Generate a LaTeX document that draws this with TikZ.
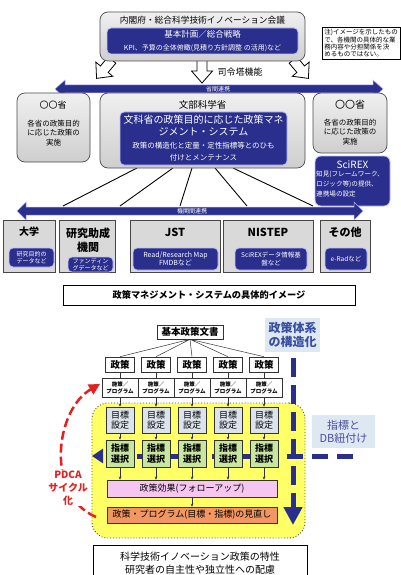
\documentclass[tikz,border=0pt]{standalone}
\usepackage{fontspec}
\setmainfont{Noto Sans CJK JP}
\usepackage{xcolor}
\usepackage{tikz}
\usetikzlibrary{arrows.meta}
\tikzset{>={Stealth[length=3pt,width=2.6pt]}}
\definecolor{navy}{RGB}{42,46,140}
\definecolor{paleblue}{RGB}{221,232,243}
\definecolor{structblue}{RGB}{58,78,160}
\definecolor{pdcared}{RGB}{228,32,32}
\definecolor{goalfill}{RGB}{220,227,236}
\definecolor{idxfill}{RGB}{200,230,160}
\definecolor{effectfill}{RGB}{245,198,240}
\definecolor{reviewfill}{RGB}{242,150,100}
\definecolor{areafill}{RGB}{255,255,102}
\newcommand{\pxfont}[2]{\fontsize{#1}{#2}\selectfont}

\begin{document}
\begin{tikzpicture}[x=1pt, y=-1pt,
                    graybox/.style={draw=gray!60!black, line width=.7pt, rounded corners=8pt, top color=gray!12, bottom color=gray!38, inner sep=0pt},
                    orgbox/.style={draw=gray!55!black, line width=.7pt, fill=gray!30, inner sep=0pt},
                    bluebox/.style={draw=blue!25!white, line width=.8pt, fill=navy, rounded corners=4pt, text=white, align=center, inner sep=1pt},
                    hollow/.style={draw=black, line width=.8pt, fill=white},
                    bandarrow/.style={fill=navy, draw=blue!30!white, line width=.5pt},
                    fanline/.style={draw=black, line width=.9pt},
                    tbox/.style={draw=black!80, line width=.6pt, fill=white, align=center, inner sep=0pt},
                    treeline/.style={draw=black!80, line width=.5pt},
                    navydash/.style={draw=navy, line width=5pt, dash pattern=on 19pt off 8pt},
                    pdcadash/.style={draw=pdcared, line width=2.5pt, dash pattern=on 9pt off 4pt},
                   ]

\useasboundingbox (0,0) rectangle (401,575);
\clip (0,0) rectangle (401,575);
\fill[white] (0,0) rectangle (401,575);

% --- upper half: policy management system ---
\draw[hollow, shift={(112,60)}, rotate=-40] (-5,0) -- (5,0) -- (5,12) -- (11,12) -- (0,24) -- (-11,12) -- (-5,12) -- cycle;
\draw[hollow, shift={(293,60)}, rotate=40] (-5,0) -- (5,0) -- (5,12) -- (11,12) -- (0,24) -- (-11,12) -- (-5,12) -- cycle;
\draw[hollow, shift={(202,60)}] (-5,0) -- (5,0) -- (5,11) -- (10.5,11) -- (0,23) -- (-10.5,11) -- (-5,11) -- cycle;

\node[graybox, minimum width=205pt, minimum height=49pt] (cstp) at (202.5,36.5) {};
\node[font=\pxfont{8.7}{10}] (cstptitle) at (202.5,20.5) {内閣府・総合科学技術イノベーション会議};
\node[bluebox, minimum width=191pt, minimum height=26pt] (plan) at (202.5,41)
     {\pxfont{8.5}{10}基本計画／総合戦略\\[1pt]\pxfont{7}{8}KPI、予算の全体俯瞰(見積り方針調整 の活用)など};

\node[draw, line width=.6pt, fill=white, anchor=north west, align=left, inner sep=2pt, font=\pxfont{6.5}{7.3}] (note) at (322,27)
     {注)イメージを示したもの\\で、各機関の具体的な業\\務内容や分担関係を決\\めるものではない。};

\node[font=\pxfont{9}{10}, anchor=west] (hq) at (214,72) {司令塔機能};

\fill[bandarrow] (55,89) -- (65,80) -- (65,85) -- (373,85) -- (373,80) -- (383,89) -- (373,98) -- (373,93) -- (65,93) -- (65,98) -- cycle;
\node[text=white, font=\pxfont{6}{7}] (interministry) at (218,89) {省間連携};

\node[graybox, minimum width=73pt, minimum height=69pt] (minl) at (53.5,127.5) {};
\node[font=\pxfont{9}{10}] (minltitle) at (53,105) {〇〇省};
\node[font=\pxfont{7.5}{9.7}, align=center] (minltext) at (53.5,133) {各省の政策目的\\に応じた政策の\\実施};

\coordinate (f1) at (137,168); \coordinate (e1) at (63,206);
\coordinate (f2) at (173,168); \coordinate (e2) at (120,206);
\coordinate (f3) at (192,168); \coordinate (e3) at (180,206);
\coordinate (f4) at (215,168); \coordinate (e4) at (247,206);
\coordinate (f5) at (233,168); \coordinate (e5) at (313,206);
\draw[fanline] (f1) -- (e1) (f2) -- (e2) (f3) -- (e3) (f4) -- (e4) (f5) -- (e5);

\node[graybox, minimum width=205pt, minimum height=75pt] (mext) at (202.5,130.5) {};
\node[font=\pxfont{9.5}{11}] (mexttitle) at (202.5,105) {文部科学省};
\node[bluebox, minimum width=167pt, minimum height=53pt] (pms) at (203.5,138.5)
     {\pxfont{10}{12}文科省の政策目的に応じた政策マネ\\\pxfont{10}{12}ジメント・システム\\[1pt]\pxfont{7.5}{10}政策の構造化と定量・定性指標等とのひも\\\pxfont{7.5}{10}付けとメンテナンス};

\node[graybox, minimum width=74pt, minimum height=60pt] (minr) at (350,123) {};
\node[font=\pxfont{10}{11}] (minrtitle) at (350,105) {〇〇省};
\node[font=\pxfont{7.5}{9.7}, align=center] (minrtext) at (350,132) {各省の政策目的\\に応じた政策の\\実施};

\node[bluebox, rounded corners=6pt, minimum width=75pt, minimum height=50pt] (scirex) at (352.5,181) {};
\node[text=white, font=\pxfont{10}{11}] (scirextitle) at (352.5,164.5) {SciREX};
\node[text=white, align=left, anchor=north west, inner sep=0pt, font=\pxfont{6.6}{10}] (scirextext) at (316,171)
     {知見(フレームワーク、\\ロジック等)の提供、\\連携場の設定};

\fill[bandarrow] (17,211) -- (26,202) -- (26,207) -- (354,207) -- (354,202) -- (363,211) -- (354,220) -- (354,215) -- (26,215) -- (26,220) -- cycle;
\node[text=white, font=\pxfont{6}{7}] (interagency) at (192,211) {機関間連携};

\node[orgbox, minimum width=52pt, minimum height=52pt] (univ) at (29,246) {};
\node[font=\pxfont{10}{11}\bfseries] (univtitle) at (29,232) {大学};
\node[bluebox, minimum width=45pt, minimum height=19pt, font=\pxfont{6}{7.5}] (univdata) at (31.5,257.5) {研究目的の\\データなど};

\node[orgbox, minimum width=56pt, minimum height=52pt] (fund) at (87,246) {};
\node[font=\pxfont{11}{13.5}\bfseries, align=center] (fundtitle) at (88,240) {研究助成\\機関};
\node[bluebox, minimum width=45pt, minimum height=15pt, font=\pxfont{6}{7}] (funddata) at (90.5,264.5) {ファンディン\\グデータなど};

\node[orgbox, minimum width=90pt, minimum height=52pt] (jst) at (175,246) {};
\node[font=\pxfont{11}{12}\bfseries] (jsttitle) at (175,232) {JST};
\node[bluebox, minimum width=85pt, minimum height=22pt, font=\pxfont{7}{8.5}] (jstdata) at (175.5,259) {Read/Research Map\\FMDBなど};

\node[orgbox, minimum width=90pt, minimum height=52pt] (nistep) at (268,246) {};
\node[font=\pxfont{11}{12}\bfseries] (nisteptitle) at (268,232) {NISTEP};
\node[bluebox, minimum width=72pt, minimum height=22pt, font=\pxfont{6.5}{8}] (nistepdata) at (271,259) {SciREXデータ情報基\\盤など};

\node[orgbox, minimum width=50pt, minimum height=52pt] (other) at (345,246) {};
\node[font=\pxfont{11}{12}\bfseries] (othertitle) at (345,232) {その他};
\node[bluebox, minimum width=42pt, minimum height=22pt, font=\pxfont{6.5}{8}] (otherdata) at (346,259) {e-Radなど};

\node[draw, line width=.8pt, minimum width=292pt, minimum height=20pt, font=\pxfont{9.2}{10}\bfseries] (caption) at (209,295) {政策マネジメント・システムの具体的イメージ};

% --- lower half: structuring of the policy system ---
\node[fill=paleblue, text=structblue, align=center, minimum width=55pt, minimum height=34pt, font=\pxfont{12}{14}\bfseries] (struct) at (292.5,335) {政策体系\\の構造化};
\node[tbox, minimum width=66pt, minimum height=14pt, font=\pxfont{9.5}{10}\bfseries] (kihon) at (190,332) {基本政策文書};

\node[tbox, minimum width=29pt, minimum height=15pt, font=\pxfont{9.5}{10}\bfseries] (p1) at (120,364.5) {政策};
\node[tbox, minimum width=29pt, minimum height=15pt, font=\pxfont{9.5}{10}\bfseries] (p2) at (156,364.5) {政策};
\node[tbox, minimum width=29pt, minimum height=15pt, font=\pxfont{9.5}{10}\bfseries] (p3) at (192,364.5) {政策};
\node[tbox, minimum width=29pt, minimum height=15pt, font=\pxfont{9.5}{10}\bfseries] (p4) at (228,364.5) {政策};
\node[tbox, minimum width=29pt, minimum height=15pt, font=\pxfont{9.5}{10}\bfseries] (p5) at (264,364.5) {政策};
\draw[treeline] (kihon.south) -- (p1.north) (kihon.south) -- (p2.north) (kihon.south) -- (p3.north) (kihon.south) -- (p4.north) (kihon.south) -- (p5.north);

\node[tbox, minimum width=36pt, minimum height=19pt, font=\pxfont{5.5}{7}\bfseries] (g1) at (120,387.5) {施策／\\プログラム};
\node[tbox, minimum width=36pt, minimum height=19pt, font=\pxfont{5.5}{7}\bfseries] (g2) at (156,387.5) {施策／\\プログラム};
\node[tbox, minimum width=36pt, minimum height=19pt, font=\pxfont{5.5}{7}\bfseries] (g3) at (192,387.5) {施策／\\プログラム};
\node[tbox, minimum width=36pt, minimum height=19pt, font=\pxfont{5.5}{7}\bfseries] (g4) at (228,387.5) {施策／\\プログラム};
\node[tbox, minimum width=36pt, minimum height=19pt, font=\pxfont{5.5}{7}\bfseries] (g5) at (264,387.5) {施策／\\プログラム};
\draw[treeline] (p1) -- (g1) (p2) -- (g2) (p3) -- (g3) (p4) -- (g4) (p5) -- (g5);

\node[draw=black!70, line width=.9pt, dotted, fill=areafill, rounded corners=16pt, minimum width=213pt, minimum height=135pt] (pdcaarea) at (198.5,470.5) {};

\coordinate (vtop) at (293,358); \coordinate (vbot) at (293,525);
\draw[navydash, -{Triangle[length=18pt,width=18pt]}] (vtop) -- (vbot);
\coordinate (hright) at (353,456); \coordinate (hleft) at (92,456);
\draw[navydash, dash pattern=on 16pt off 9pt, -{Triangle[length=11pt,width=14pt]}] (hright) -- (hleft);

\node[tbox, fill=goalfill, minimum width=28pt, minimum height=26pt, font=\pxfont{9}{10.5}] (t1) at (120,420) {目標\\設定};
\node[tbox, fill=goalfill, minimum width=28pt, minimum height=26pt, font=\pxfont{9}{10.5}] (t2) at (156,420) {目標\\設定};
\node[tbox, fill=goalfill, minimum width=28pt, minimum height=26pt, font=\pxfont{9}{10.5}] (t3) at (192,420) {目標\\設定};
\node[tbox, fill=goalfill, minimum width=28pt, minimum height=26pt, font=\pxfont{9}{10.5}] (t4) at (228,420) {目標\\設定};
\node[tbox, fill=goalfill, minimum width=28pt, minimum height=26pt, font=\pxfont{9}{10.5}] (t5) at (264,420) {目標\\設定};

\node[tbox, fill=idxfill, minimum width=28pt, minimum height=27pt, font=\pxfont{9}{10.5}\bfseries] (s1) at (120,453.5) {指標\\選択};
\node[tbox, fill=idxfill, minimum width=28pt, minimum height=27pt, font=\pxfont{9}{10.5}\bfseries] (s2) at (156,453.5) {指標\\選択};
\node[tbox, fill=idxfill, minimum width=28pt, minimum height=27pt, font=\pxfont{9}{10.5}\bfseries] (s3) at (192,453.5) {指標\\選択};
\node[tbox, fill=idxfill, minimum width=28pt, minimum height=27pt, font=\pxfont{9}{10.5}\bfseries] (s4) at (228,453.5) {指標\\選択};
\node[tbox, fill=idxfill, minimum width=28pt, minimum height=27pt, font=\pxfont{9}{10.5}\bfseries] (s5) at (264,453.5) {指標\\選択};

\node[tbox, fill=effectfill, minimum width=170pt, minimum height=17pt, font=\pxfont{9}{10}] (effect) at (192,488.5) {政策効果(フォローアップ)};
\node[tbox, fill=reviewfill, minimum width=170pt, minimum height=16pt, font=\pxfont{9}{10}] (review) at (192,515) {政策・プログラム(目標・指標)の見直し};

\draw[treeline, ->] (g1) -- (t1); \draw[treeline, ->] (g2) -- (t2); \draw[treeline, ->] (g3) -- (t3); \draw[treeline, ->] (g4) -- (t4); \draw[treeline, ->] (g5) -- (t5);
\draw[treeline, ->] (t1) -- (s1); \draw[treeline, ->] (t2) -- (s2); \draw[treeline, ->] (t3) -- (s3); \draw[treeline, ->] (t4) -- (s4); \draw[treeline, ->] (t5) -- (s5);
\draw[treeline, ->] (s1) -- (s1 |- effect.north); \draw[treeline, ->] (s2) -- (s2 |- effect.north); \draw[treeline, ->] (s3) -- (s3 |- effect.north);
\draw[treeline, ->] (s4) -- (s4 |- effect.north); \draw[treeline, ->] (s5) -- (s5 |- effect.north);
\draw[treeline, ->] (effect) -- (review);

\node[fill=paleblue, text=navy!85, align=center, minimum width=63pt, minimum height=33pt, font=\pxfont{11}{13}] (dblink) at (343.5,431.5) {指標と\\DB紐付け};

\coordinate (pdcastart) at (96,517); \coordinate (pdcaend) at (100,384);
\draw[pdcadash, -{Triangle[length=11pt,width=11pt]}] (pdcastart) .. controls (45,495) and (55,410) .. (pdcaend);
\node[fill=white, text=pdcared, align=center, inner sep=1pt, font=\pxfont{10}{13}\bfseries] (pdca) at (68,488) {PDCA\\サイクル\\化};

\node[draw, line width=.8pt, fill=white, minimum width=214pt, minimum height=36pt, align=center, font=\pxfont{10}{13}] (feature) at (200,563)
     {科学技術イノベーション政策の特性\\研究者の自主性や独立性への配慮};

\end{tikzpicture}
\end{document}
